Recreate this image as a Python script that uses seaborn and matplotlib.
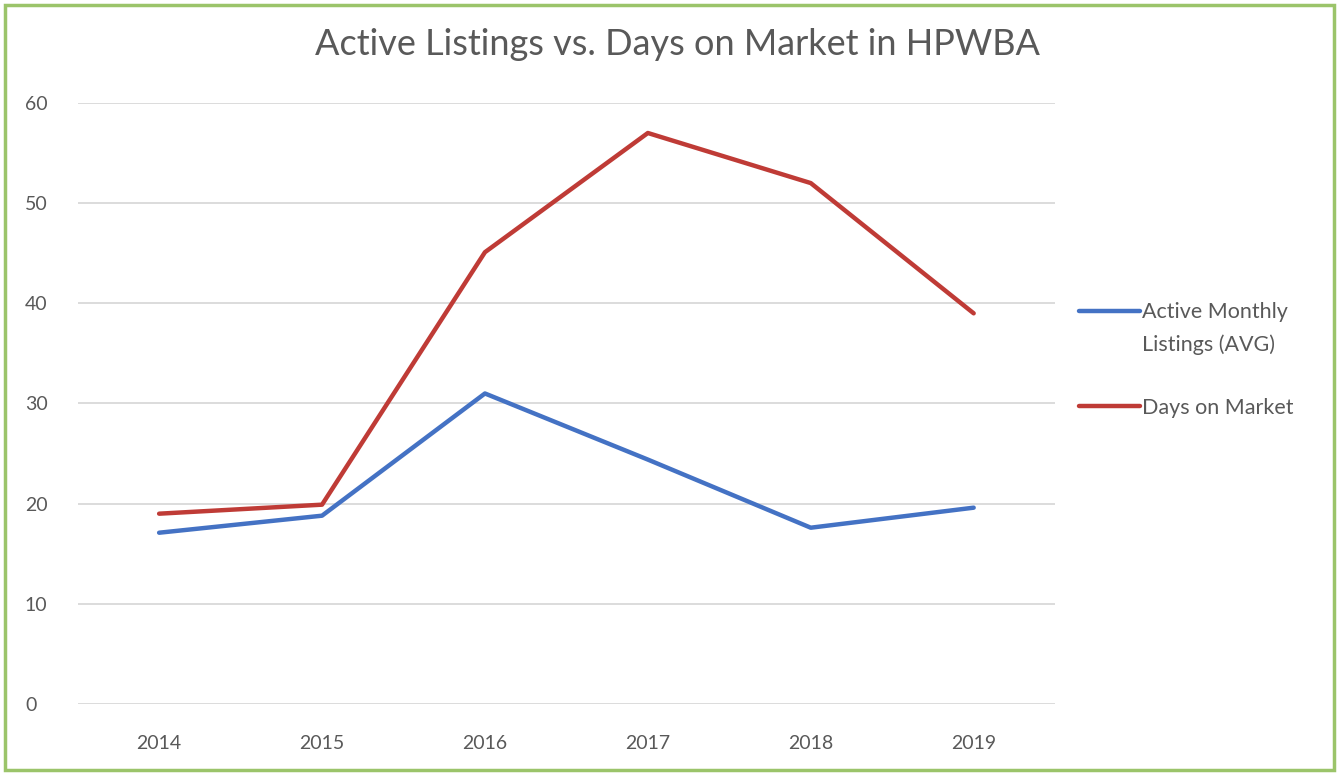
import matplotlib
matplotlib.use("Agg")
import matplotlib.pyplot as plt
import seaborn as sns
import pandas as pd
import numpy as np
from matplotlib.patches import Rectangle

years = ["2014", "2015", "2016", "2017", "2018", "2019"]
active_listings = [17.1, 18.8, 31.0, 24.4, 17.6, 19.6]
days_on_market = [19.0, 19.9, 45.1, 57.0, 52.0, 39.0]
series_names = ["Active Monthly\nListings (AVG)", "Days on Market"]
title = "Active Listings vs. Days on Market in HPWBA"

sns.set_theme(style="white")
plt.rcParams['font.family'] = ['Lato', 'DejaVu Sans']

df = pd.DataFrame({
    "Year": years * 2,
    "Value": active_listings + days_on_market,
    "Series": [series_names[0]] * len(years) + [series_names[1]] * len(years),
})

fig = plt.figure(figsize=(13.39, 7.74), dpi=100)
ax = fig.add_axes([0.058, 0.0904, 0.730, 0.7766])

palette = {series_names[0]: "#4472C4", series_names[1]: "#BF3B36"}
sns.lineplot(data=df, x="Year", y="Value", hue="Series", palette=palette,
             linewidth=3.2, ax=ax, sort=False, legend=True)

ax.set_ylim(0, 60)
ax.set_xlim(-0.5, len(years) - 0.5)
ax.set_yticks(range(0, 61, 10))
ax.yaxis.grid(True, color="#D9D9D9", linewidth=1.3)
ax.xaxis.grid(False)
for s in ax.spines.values():
    s.set_visible(False)
ax.set_xlabel("")
ax.set_ylabel("")
ax.tick_params(axis="both", colors="#595959", labelsize=14, length=0)
ax.tick_params(axis="x", pad=22)
for lab in ax.get_yticklabels():
    lab.set_horizontalalignment("left")
ax.yaxis.set_tick_params(pad=38)

handles, labels = ax.get_legend_handles_labels()
ax.get_legend().remove()
leg = fig.legend(handles, labels, loc="upper left", bbox_to_anchor=(0.806, 0.610),
                 frameon=False, fontsize=15.5, handlelength=2.8, handletextpad=0.1,
                 labelspacing=2.0, labelcolor="#595959", borderpad=0, borderaxespad=0)
for t in leg.get_texts():
    t.set_linespacing(1.75)
# align the first handle with the first line of its two-line label
h0 = leg.legend_handles[0]
h0.set_ydata(np.asarray(h0.get_ydata()) + 13)

fig.text(0.506, 0.942, title, ha="center", va="center", fontsize=26, color="#595959")

fig.patches.append(Rectangle((0.004, 0.005), 0.992, 0.988, transform=fig.transFigure,
                             fill=False, edgecolor="#9BC46A", linewidth=2.5))

fig.savefig("out.png", dpi=100, facecolor="white")
